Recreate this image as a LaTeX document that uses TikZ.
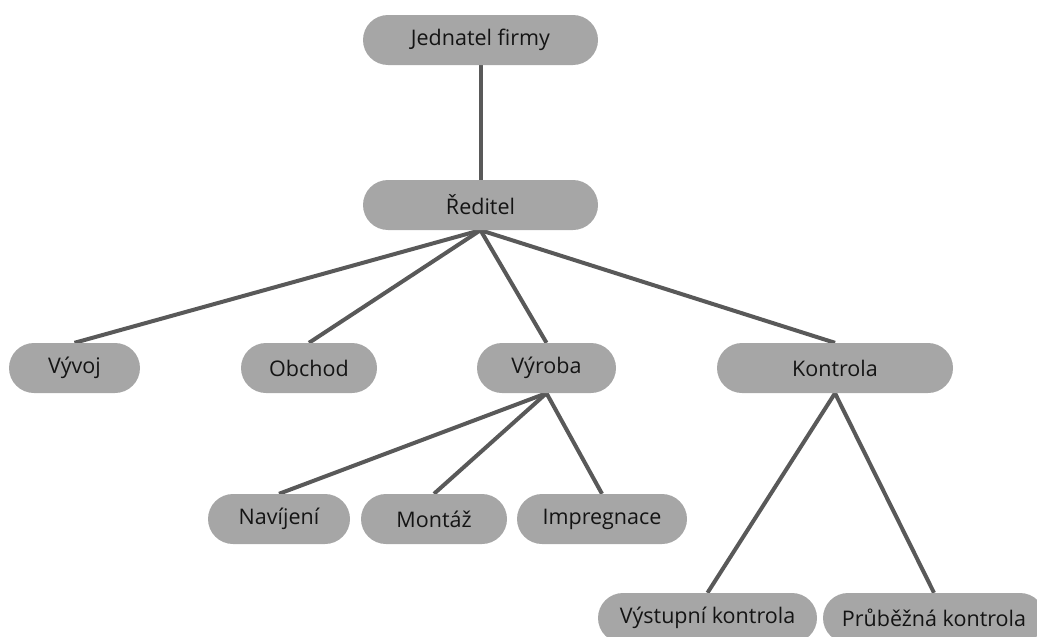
\documentclass[tikz,border=0pt]{standalone}
\usepackage{fontspec}
\setmainfont{Open Sans}
\usetikzlibrary{backgrounds}
\definecolor{boxfill}{HTML}{A6A6A6}
\definecolor{linecol}{HTML}{595959}
\definecolor{txt}{HTML}{141414}
\tikzset{
  unit/.style={rectangle, rounded corners=25pt, fill=boxfill, minimum height=50pt,
    inner sep=0pt, text=txt, font=\fontsize{21.5}{26}\selectfont},
  link/.style={draw=linecol, line width=4pt}
}
\begin{document}
\begin{tikzpicture}[x=1pt,y=-1pt]
\useasboundingbox (0,0) rectangle (1037,637);
\clip (0,0) rectangle (1037,637);
\node[unit, minimum width=235pt] (jed) at (480.5,40) {Jednatel firmy};
\node[unit, minimum width=235pt] (red) at (480.5,205) {Ředitel};
\node[unit, minimum width=131pt] (vyv) at (74.5,368) {Vývoj};
\node[unit, minimum width=136pt] (obc) at (309,368) {Obchod};
\node[unit, minimum width=139pt] (vyr) at (546.5,368) {Výroba};
\node[unit, minimum width=236pt] (kon) at (835,368) {Kontrola};
\node[unit, minimum width=142pt] (nav) at (279,519) {Navíjení};
\node[unit, minimum width=146pt] (mon) at (434,519) {Montáž};
\node[unit, minimum width=170pt] (imp) at (602,519) {Impregnace};
\node[unit, minimum width=219pt] (vys) at (707.5,618) {Výstupní kontrola};
\node[unit, minimum width=222pt] (pru) at (934,618) {Průběžná kontrola};
\begin{scope}[on background layer]
\draw[link] (jed.south) -- (red.north);
\draw[link] (red.south) -- (vyv.north);
\draw[link] (red.south) -- (obc.north);
\draw[link] (red.south) -- (vyr.north);
\draw[link] (red.south) -- (kon.north);
\draw[link] (vyr.south) -- (nav.north);
\draw[link] (vyr.south) -- (mon.north);
\draw[link] (vyr.south) -- (imp.north);
\draw[link] (kon.south) -- (vys.north);
\draw[link] (kon.south) -- (pru.north);
\end{scope}
\end{tikzpicture}
\end{document}
